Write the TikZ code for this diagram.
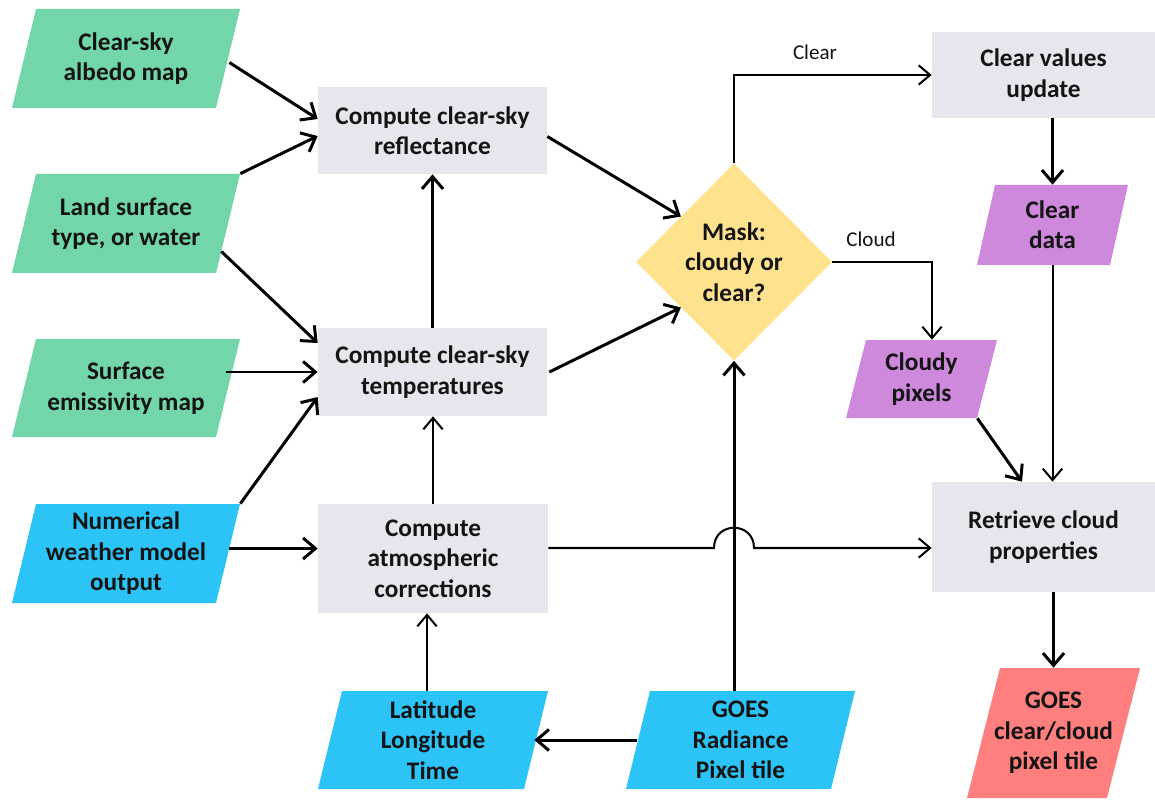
\documentclass[tikz,border=0pt]{standalone}
\usepackage{fontspec}
\setmainfont{Carlito}
\usetikzlibrary{arrows.meta,calc,shapes.geometric}
\definecolor{cgreen}{RGB}{114,214,168}
\definecolor{cblue}{RGB}{44,196,247}
\definecolor{clav}{RGB}{233,229,239}
\definecolor{cyellow}{RGB}{255,226,142}
\definecolor{cpurple}{RGB}{206,136,220}
\definecolor{csalmon}{RGB}{255,126,126}
\definecolor{ctext}{RGB}{20,20,20}
\begin{document}
\begin{tikzpicture}[x=0.02cm,y=-0.02cm,
  txt/.style={font=\fontsize{14.4}{17.3}\selectfont\bfseries, text=ctext, align=center, inner sep=0pt},
  rbox/.style n args={2}{txt, fill=clav, minimum width=#1*0.02cm, minimum height=#2*0.02cm},
  para/.style n args={4}{txt, minimum width=#1*0.02cm, minimum height=#2*0.02cm,
    path picture={\fill[#3] ([xshift=#4*0.02cm]path picture bounding box.north west)
      -- (path picture bounding box.north east)
      -- ([xshift=-#4*0.02cm]path picture bounding box.south east)
      -- (path picture bounding box.south west) -- cycle;}},
  maskshape/.style={txt, diamond, aspect=1, fill=cyellow, minimum width=196*0.02cm, minimum height=197*0.02cm},
  lbl/.style={font=\fontsize{12}{14}\selectfont, text=ctext, inner sep=0pt},
  arr/.style={-{Straight Barb[length=7pt,width=12pt]}, line width=1.7pt},
  tarr/.style={-{Straight Barb[length=6.5pt,width=11pt]}, line width=1.15pt}]

\fill[white] (0,0) rectangle (1155,800);
\useasboundingbox (0,0) rectangle (1155,800);

% input / data parallelograms
\node[para={228}{99}{cgreen}{24}] (albedo) at (126,58.5) {Clear-sky\\albedo map};
\node[para={228}{99}{cgreen}{24}] (land) at (126,223.5) {Land surface\\type, or water};
\node[para={228}{98}{cgreen}{24}] (emis) at (126,388) {Surface\\emissivity map};
\node[para={228}{99}{cblue}{24}] (num) at (126,553.5) {Numerical\\weather model\\output};
\node[para={230}{98}{cblue}{24}] (latlon) at (433,740) {Latitude\\Longitude\\Time};
\node[para={229}{98}{cblue}{24}] (goesrad) at (740.5,740) {GOES\\Radiance\\Pixel tile};
\node[para={151}{80}{cpurple}{18}] (cleardata) at (1052.5,225) {Clear\\data};
\node[para={151}{78}{cpurple}{20}] (cloudy) at (921.5,379) {Cloudy\\pixels};
\node[para={173}{130}{csalmon}{33}] (goesout) at (1053.5,733) {GOES\\clear/cloud\\pixel tile};

% process boxes
\node[rbox={229}{87}] (refl) at (432.5,130.5) {Compute clear-sky\\reflectance};
\node[rbox={229}{88}] (temp) at (432.5,372) {Compute clear-sky\\temperatures};
\node[rbox={230}{109}] (atm) at (433,558.5) {Compute\\atmospheric\\corrections};
\node[rbox={223}{86}] (clearupd) at (1043.5,75) {Clear values\\update};
\node[rbox={223}{110}] (retrieve) at (1043.5,537) {Retrieve cloud\\properties};
\node[maskshape] (mask) at (734,262) {Mask:\\cloudy or\\clear?};

% labels
\node[lbl] (lclear) at (815,52) {Clear};
\node[lbl] (lcloud) at (871,239) {Cloud};

\coordinate (j) at (734,548);

% connectors
\draw[arr] ($(albedo.east)+(-11,4)$) -- ($(refl.west)+(0,-11.5)$);
\draw[arr] (land.north east) -- ($(refl.west)+(0,5.5)$);
\draw[arr] ($(land.east)+(-19,28)$) -- ($(temp.west)+(0,-29)$);
\draw[arr] ($(emis.east)+(-14,-16)$) -- (temp.west);
\draw[arr] (num.north east) -- ($(temp.west)+(0,25)$);
\draw[arr] ($(num.east)+(-11,-5)$) -- ($(atm.west)+(0,-10)$);
\draw[tarr] (atm.north) -- (atm.north |- temp.south);
\draw[arr] (temp.north) -- (refl.south);
\draw[tarr] ($(latlon.north)+(-6,0)$) -- ($(atm.south)+(-6,0)$);
\draw[arr] ($(goesrad.west)+(11,0)$) -- ($(latlon.east)+(-14,0)$);
\draw[arr] (mask.south |- goesrad.north) -- (mask.south);
\draw[tarr] ($(atm.east)+(0,-10.5)$) -- ($(j)+(-20,0)$)
   .. controls ($(j)+(-20,-27)$) and ($(j)+(20,-27)$) .. ($(j)+(20,0)$)
   -- (retrieve.west |- j);
\draw[arr] ($(refl.east)+(0,6)$) -- ($(mask.west)!0.46!(mask.north)$);
\draw[arr] ($(temp.east)+(2,0)$) -- ($(mask.west)!0.46!(mask.south)$);
\draw[tarr] (mask.north) |- (clearupd.west);
\draw[tarr] (mask.east) -| ($(cloudy.north)+(10.5,0)$);
\draw[arr] (clearupd.south -| cleardata.north) -- (cleardata.north);
\draw[tarr] (cleardata.south) -- (cleardata.south |- retrieve.north);
\draw[arr] ($(cloudy.south east)+(-20,0)$) -- ($(retrieve.north)+(-21.5,0)$);
\draw[arr] (goesout.north |- retrieve.south) -- (goesout.north);
\end{tikzpicture}
\end{document}
